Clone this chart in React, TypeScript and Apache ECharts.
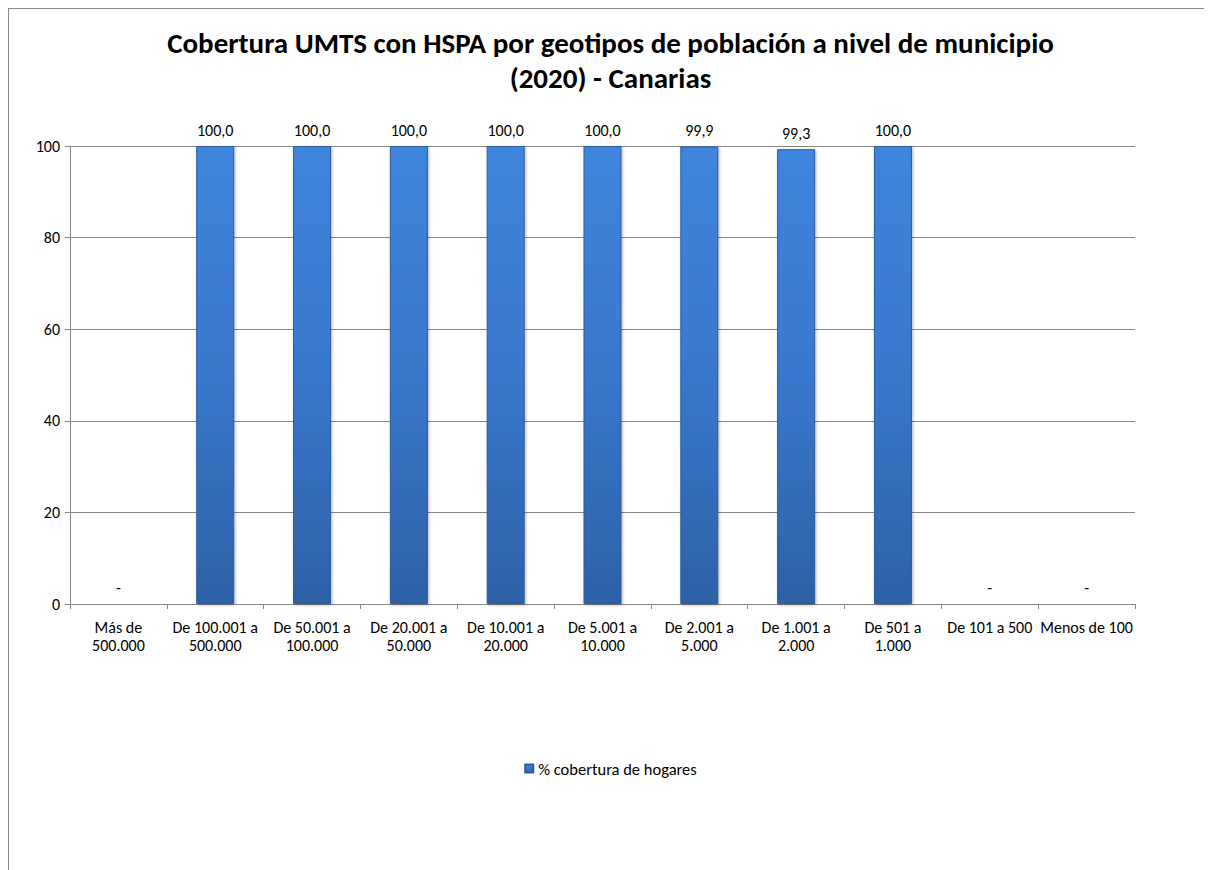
import React, { useEffect, useRef } from "react";
import * as echarts from "echarts";

const categories = [
  "Más de\n500.000",
  "De 100.001 a\n500.000",
  "De 50.001 a\n100.000",
  "De 20.001 a\n50.000",
  "De 10.001 a\n20.000",
  "De 5.001 a\n10.000",
  "De 2.001 a\n5.000",
  "De 1.001 a\n2.000",
  "De 501 a\n1.000",
  "De 101 a 500",
  "Menos de 100",
];
const coverage = [0, 100.0, 100.0, 100.0, 100.0, 100.0, 99.9, 99.3, 100.0, 0, 0];
const seriesName = "% cobertura de hogares";
const titleLines = [
  "Cobertura UMTS con HSPA por geotipos de población a nivel de municipio",
  "(2020) - Canarias",
];
const FONT = "Carlito, Lato, 'Open Sans', sans-serif";

export default function App() {
  const ref = useRef<HTMLDivElement>(null);
  useEffect(() => {
    if (!ref.current) return;
    const chart = echarts.init(ref.current, undefined, { renderer: "svg" });
    const barColor = new echarts.graphic.LinearGradient(0, 0, 0, 1, [
      { offset: 0, color: "#3F85DD" },
      { offset: 0.5, color: "#3978CC" },
      { offset: 1, color: "#2D61A6" },
    ]);
    chart.setOption({
      animation: false,
      backgroundColor: "#ffffff",
      textStyle: { fontFamily: FONT },
      title: titleLines.map((t, i) => ({
        text: t,
        left: "center",
        top: 17 + i * 35,
        padding: 0,
        textStyle: {
          fontFamily: FONT,
          fontSize: 29,
          fontWeight: "bold",
          color: "#000000",
          lineHeight: 34,
        },
      })),
      legend: {
        bottom: 88,
        left: "center",
        itemWidth: 8,
        itemHeight: 8,
        itemGap: 4,
        icon: "rect",
        textStyle: { fontFamily: FONT, fontSize: 16.5, color: "#000" },
        data: [seriesName],
      },
      grid: { left: 61, right: 77, top: 137, bottom: 266 },
      xAxis: {
        type: "category",
        data: categories,
        axisLine: { lineStyle: { color: "#868686" } },
        axisTick: { show: true, length: 5, lineStyle: { color: "#868686" } },
        axisLabel: {
          interval: 0,
          color: "#000",
          fontSize: 16,
          fontFamily: FONT,
          lineHeight: 18,
          margin: 14,
        },
      },
      yAxis: {
        type: "value",
        min: 0,
        max: 100,
        interval: 20,
        axisLine: { show: true, lineStyle: { color: "#868686" } },
        axisTick: { show: true, length: 5, lineStyle: { color: "#868686" } },
        splitLine: { lineStyle: { color: "#868686" } },
        axisLabel: { color: "#000", fontSize: 16, fontFamily: FONT, margin: 10 },
      },
      series: [
        {
          name: seriesName,
          type: "bar",
          data: coverage,
          barWidth: 38,
          itemStyle: {
            color: barColor,
            borderColor: "#2A5C9E",
            borderWidth: 1,
            shadowColor: "rgba(0,0,0,0.3)",
            shadowBlur: 3,
            shadowOffsetX: 1,
            shadowOffsetY: 1,
          },
          label: {
            show: true,
            position: "top",
            distance: 8,
            color: "#000",
            fontSize: 16,
            fontFamily: FONT,
            formatter: (p: any) =>
              p.value === 0 ? "-" : Number(p.value).toFixed(1).replace(".", ","),
          },
        },
      ],
    });
    return () => chart.dispose();
  }, []);
  return (
    <div
      style={{
        width: 1204,
        height: 862,
        borderTop: "1px solid #888",
        borderLeft: "1px solid #888",
        boxSizing: "border-box",
      }}
    >
      <div ref={ref} style={{ width: 1203, height: 861 }} />
    </div>
  );
}
